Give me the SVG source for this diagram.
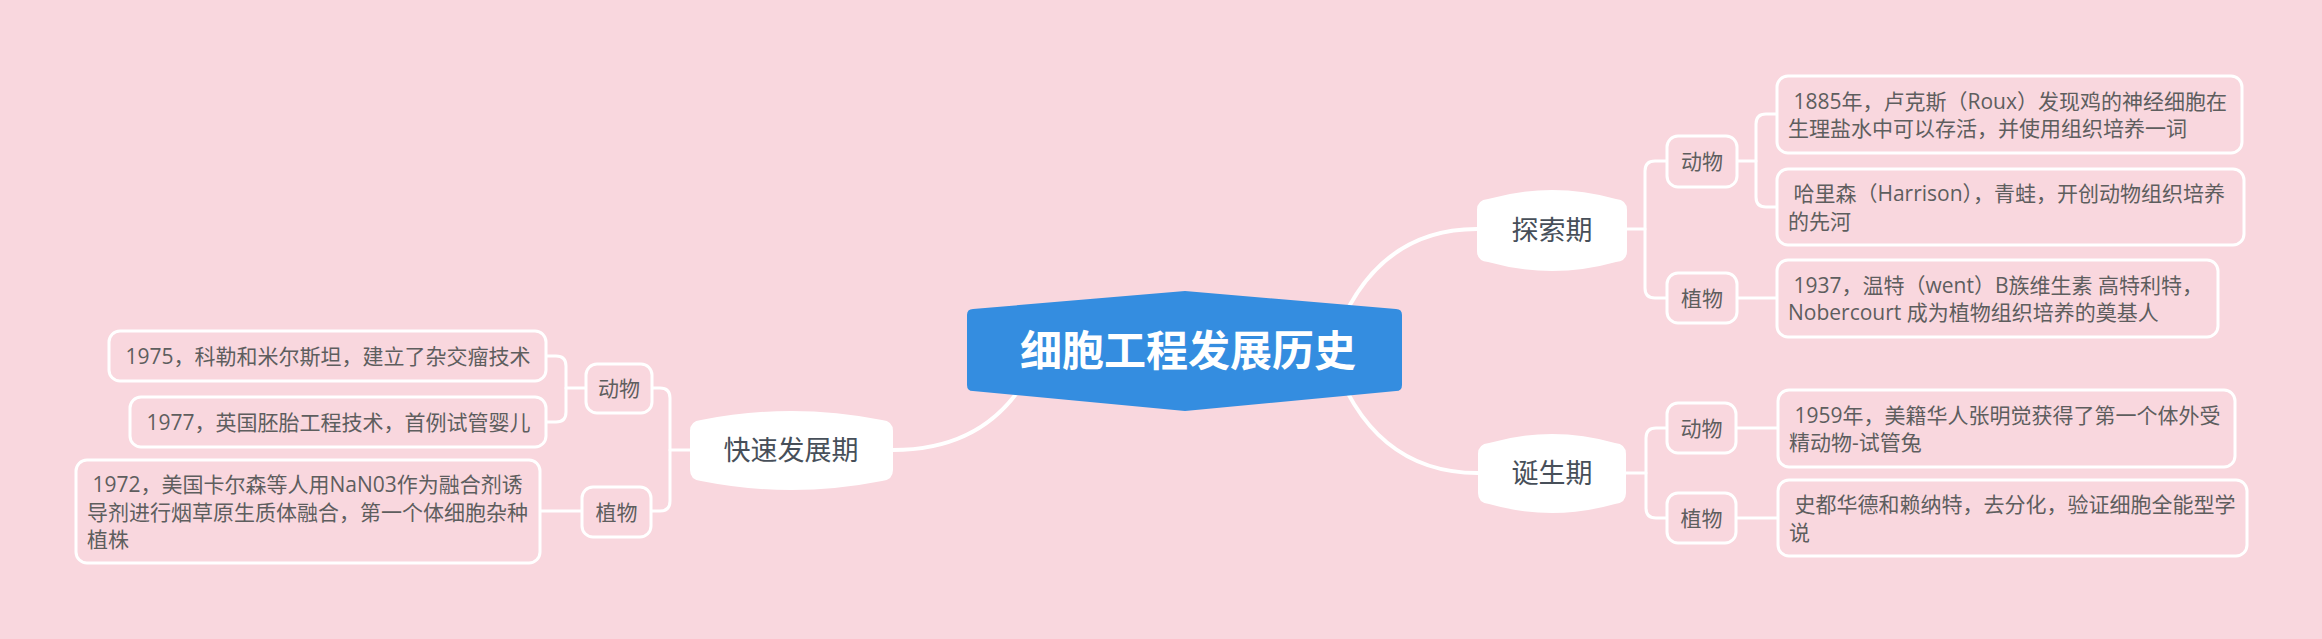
<svg xmlns="http://www.w3.org/2000/svg" width="2322" height="639" viewBox="0 0 2322 639">
<style>
.bg{fill:#F9D7DE}
.ln{fill:none;stroke:#FFFFFF;stroke-width:3;stroke-linecap:round;stroke-linejoin:round}
.main{fill:none;stroke:#FFFFFF;stroke-width:4;stroke-linecap:round}
.box{fill:#F9D7DE;stroke:#FFFFFF;stroke-width:3}
.period{fill:#FFFFFF}
.ttl{font-family:"Noto Sans CJK SC","Noto Sans",sans-serif;font-size:42px;font-weight:bold;fill:#FFFFFF;text-anchor:middle}
.pt{font-family:"Noto Sans CJK SC","Noto Sans",sans-serif;font-size:27px;fill:#474F59;text-anchor:middle}
.ct{font-family:"Open Sans","Noto Sans CJK SC",sans-serif;font-size:21px;fill:#5E5E5E;text-anchor:middle}
.lt{font-family:"Open Sans","Noto Sans CJK SC",sans-serif;font-size:21px;fill:#5E5E5E}
</style>
<rect class="bg" x="0" y="0" width="2322" height="639"/>
<g id="connectors">
<path class="main" d="M 1330 351 Q 1370 229 1477 229"/>
<path class="main" d="M 1330 351 Q 1370 473 1478 473"/>
<path class="main" d="M 1040 351 Q 1000 450 893 450"/>
<path class="ln" d="M 1627 229 H 1645"/>
<path class="ln" d="M 1667 161 H 1655 Q 1645 161 1645 171 V 288 Q 1645 298 1655 298 H 1667"/>
<path class="ln" d="M 1737 161 H 1756"/>
<path class="ln" d="M 1777 114 H 1766 Q 1756 114 1756 124 V 197 Q 1756 207 1766 207 H 1777"/>
<path class="ln" d="M 1737 298 H 1777"/>
<path class="ln" d="M 1626 473 H 1646"/>
<path class="ln" d="M 1667 428 H 1656 Q 1646 428 1646 438 V 508 Q 1646 518 1656 518 H 1667"/>
<path class="ln" d="M 1736 428 H 1778"/>
<path class="ln" d="M 1736 518 H 1778"/>
<path class="ln" d="M 690 450 H 670"/>
<path class="ln" d="M 652 388 H 660 Q 670 388 670 398 V 501 Q 670 511 660 511 H 651"/>
<path class="ln" d="M 586 388 H 566"/>
<path class="ln" d="M 546 356 H 556 Q 566 356 566 366 V 412 Q 566 422 556 422 H 546"/>
<path class="ln" d="M 581 511 H 540"/>
</g>
<g id="root">
<path fill="#348DE0" d="M 967 315 Q 967 309 973 309 L 1185 291 L 1396 309 Q 1402 309 1402 315 L 1402 385 Q 1402 391 1396 391 L 1185 411 L 973 391 Q 967 391 967 385 Z"/>
<text class="ttl" x="1188" y="366">细胞工程发展历史</text>
</g>
<g id="explore">
<path class="period" d="M 1477 210 Q 1477 200 1488 199 Q 1552 181 1616 199 Q 1627 200 1627 210 L 1627 251 Q 1627 261 1616 262 Q 1552 280 1488 262 Q 1477 261 1477 251 Z"/>
<text class="pt" x="1552" y="240">探索期</text>
</g>
<g id="birth">
<path class="period" d="M 1478 454 Q 1478 444 1489 443 Q 1552 425 1615 443 Q 1626 444 1626 454 L 1626 493 Q 1626 503 1615 504 Q 1552 522 1489 504 Q 1478 503 1478 493 Z"/>
<text class="pt" x="1552" y="483">诞生期</text>
</g>
<g id="fast">
<path class="period" d="M 690 431 Q 690 421 701 420 Q 791 402 882 420 Q 893 421 893 431 L 893 470 Q 893 480 882 481 Q 791 499 701 481 Q 690 480 690 470 Z"/>
<text class="pt" x="791" y="460">快速发展期</text>
</g>
<g id="explore-animal">
<rect class="box" x="1667" y="136" width="70" height="51" rx="11"/>
<text class="ct" x="1702" y="169">动物</text>
</g>
<g id="explore-plant">
<rect class="box" x="1667" y="273" width="70" height="50" rx="11"/>
<text class="ct" x="1702" y="306">植物</text>
</g>
<g id="birth-animal">
<rect class="box" x="1667" y="403" width="69" height="50" rx="11"/>
<text class="ct" x="1701.5" y="436">动物</text>
</g>
<g id="birth-plant">
<rect class="box" x="1667" y="493" width="69" height="50" rx="11"/>
<text class="ct" x="1701.5" y="526">植物</text>
</g>
<g id="fast-animal">
<rect class="box" x="586" y="364" width="66" height="49" rx="11"/>
<text class="ct" x="619" y="396">动物</text>
</g>
<g id="fast-plant">
<rect class="box" x="582" y="487" width="69" height="50" rx="11"/>
<text class="ct" x="616.5" y="520">植物</text>
</g>
<g id="leaf1">
<rect class="box" x="1777" y="76" width="465" height="77" rx="11"/>
<text class="lt" xml:space="preserve"><tspan x="1788" y="108.5"> 1885年，卢克斯（Roux）发现鸡的神经细胞在</tspan><tspan x="1788" y="136">生理盐水中可以存活，并使用组织培养一词</tspan></text>
</g>
<g id="leaf2">
<rect class="box" x="1777" y="169" width="467" height="76" rx="11"/>
<text class="lt" xml:space="preserve"><tspan x="1788" y="201"> 哈里森（Harrison），青蛙，开创动物组织培养</tspan><tspan x="1788" y="229">的先河</tspan></text>
</g>
<g id="leaf3">
<rect class="box" x="1777" y="260" width="441" height="77" rx="11"/>
<text class="lt" xml:space="preserve"><tspan x="1788" y="292.5"> 1937，温特（went）B族维生素 高特利特，</tspan><tspan x="1788" y="320">Nobercourt 成为植物组织培养的奠基人</tspan></text>
</g>
<g id="leaf4">
<rect class="box" x="1778" y="390" width="457" height="77" rx="11"/>
<text class="lt" xml:space="preserve"><tspan x="1789" y="422.5"> 1959年，美籍华人张明觉获得了第一个体外受</tspan><tspan x="1789" y="450">精动物-试管兔</tspan></text>
</g>
<g id="leaf5">
<rect class="box" x="1778" y="480" width="469" height="76" rx="11"/>
<text class="lt" xml:space="preserve"><tspan x="1789" y="512">&#160;史都华德和赖纳特，去分化，验证细胞全能型学</tspan><tspan x="1789" y="540">说</tspan></text>
</g>
<g id="leaf6">
<rect class="box" x="109" y="331" width="437" height="50" rx="11"/>
<text class="lt" xml:space="preserve" x="120" y="364"> 1975，科勒和米尔斯坦，建立了杂交瘤技术</text>
</g>
<g id="leaf7">
<rect class="box" x="130" y="397" width="416" height="50" rx="11"/>
<text class="lt" xml:space="preserve" x="141" y="430"> 1977，英国胚胎工程技术，首例试管婴儿</text>
</g>
<g id="leaf8">
<rect class="box" x="76" y="460" width="464" height="103" rx="11"/>
<text class="lt" xml:space="preserve"><tspan x="87" y="492"> 1972，美国卡尔森等人用NaN03作为融合剂诱</tspan><tspan x="87" y="519.5">导剂进行烟草原生质体融合，第一个体细胞杂种</tspan><tspan x="87" y="547">植株</tspan></text>
</g>
</svg>
